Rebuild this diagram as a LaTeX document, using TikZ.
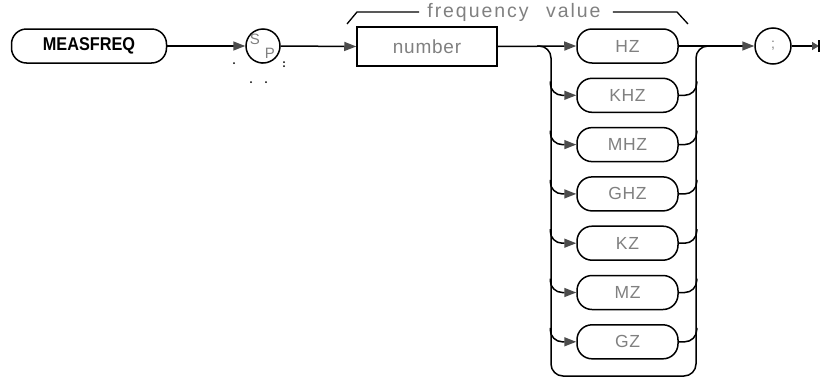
\documentclass[tikz,border=0pt]{standalone}
\usepackage{fontspec}
\setmainfont{Liberation Sans}
\newfontfamily\labfont[LetterSpace=4]{Liberation Sans}
\newfontfamily\widefont[LetterSpace=10]{Liberation Sans}
\usetikzlibrary{arrows.meta,calc}
\definecolor{txtgray}{gray}{0.5}
\definecolor{arrgray}{gray}{0.3}
\tikzset{
  line/.style={line width=1.5pt, black},
  arr/.style={line, -{Triangle[length=12pt,width=9pt,fill=arrgray,color=arrgray]}},
  term/.style={draw, line width=1.5pt, rounded corners=15pt, minimum height=34pt, inner sep=0pt},
  unit/.style={term, minimum width=101pt, text=txtgray, font=\labfont\fontsize{17.5pt}{17.5pt}\selectfont},
  circ/.style={draw, circle, line width=1.5pt, minimum size=34pt, inner sep=0pt},
  dotmark/.style={fill=black, inner sep=0pt, minimum size=2pt, circle}
}
\begin{document}
\begin{tikzpicture}[x=1pt,y=-1pt]
\useasboundingbox (0,0) rectangle (820,378);
% terminal
\node[term, minimum width=155pt, font=\bfseries\fontsize{18.5pt}{18.5pt}\selectfont] (meas) at (89,46) {\scalebox{0.88}[1]{MEASFREQ}};
% SP circle
\node[circ] (sp) at (263,46) {};
\node[text=txtgray, font=\fontsize{15pt}{15pt}\selectfont] (sps) at (255,39) {S};
\node[text=txtgray, font=\fontsize{15pt}{15pt}\selectfont] (spp) at (270,53) {P};
\node[dotmark] (d1) at (234,63) {};
\node[dotmark, minimum size=1.5pt] (d2) at (262,63) {};
\node[dotmark] (d3) at (284,62) {};
\node[dotmark] (d4) at (284,66) {};
\node[dotmark] (d5) at (251,82) {};
\node[dotmark] (d6) at (266,82) {};
% number box
\node[draw, line width=1.5pt, minimum width=140pt, minimum height=39pt, inner sep=0pt, text=txtgray, font=\labfont\fontsize{19pt}{19pt}\selectfont] (num) at (427,46.5) {number};
% frequency value bracket
\node[text=txtgray, font=\widefont\fontsize{19.5pt}{19.5pt}\selectfont, anchor=base, inner sep=0pt] (fv) at (514,17.5) {frequency\hspace{0.9em}value};
\coordinate (bl) at (347,24);
\coordinate (br) at (688,24);
\draw[line, line width=1.3pt] (bl) -- (357,12) -- ($(fv.west |- 0,12)+(-8,0)$);
\draw[line, line width=1.3pt] ($(fv.east |- 0,12)+(12,0)$) -- (677,12) -- (br);
% units
\node[unit] (hz)  at (627.5,46) {HZ};
\node[unit] (khz) at (627.5,95.3) {KHZ};
\node[unit] (mhz) at (627.5,144.6) {MHZ};
\node[unit] (ghz) at (627.5,193.9) {GHZ};
\node[unit] (kz)  at (627.5,243.2) {KZ};
\node[unit] (mz)  at (627.5,292.5) {MZ};
\node[unit] (gz)  at (627.5,341.8) {GZ};
% semicolon circle
\node[circ, minimum size=36pt] (semi) at (773,46) {};
\node[text=txtgray, font=\fontsize{14pt}{14pt}\selectfont] (semit) at (773,46) {;};
\coordinate (endpt) at (819,46);
% main connectors
\draw[arr] (meas.east) -- (sp.west);
\draw[arr] (sp.east) -- (num.west);
\draw[arr] (num.east) -- (hz.west);
\draw[arr] (hz.east) -- (semi.west);
\draw[line, -{Triangle[length=7pt,width=8pt,fill=arrgray,color=arrgray]}] (semi.east) -- (endpt);
\draw[line] (819,40) -- (819,52);
% bus loop
\coordinate (lj) at (537,46);
\coordinate (rj) at (710,46);
\draw[line, rounded corners=12pt] (lj) -| (551,376) -| (696,46) -- (rj);
% branches
\foreach \n in {khz,mhz,ghz,kz,mz,gz}{
  \draw[arr, rounded corners=12pt] ($(\n.west)+(-26,-14)$) |- (\n.west);
  \draw[line, rounded corners=12pt] (\n.east) -| ($(\n.east)+(18,-14)$);
}
\end{tikzpicture}
\end{document}
